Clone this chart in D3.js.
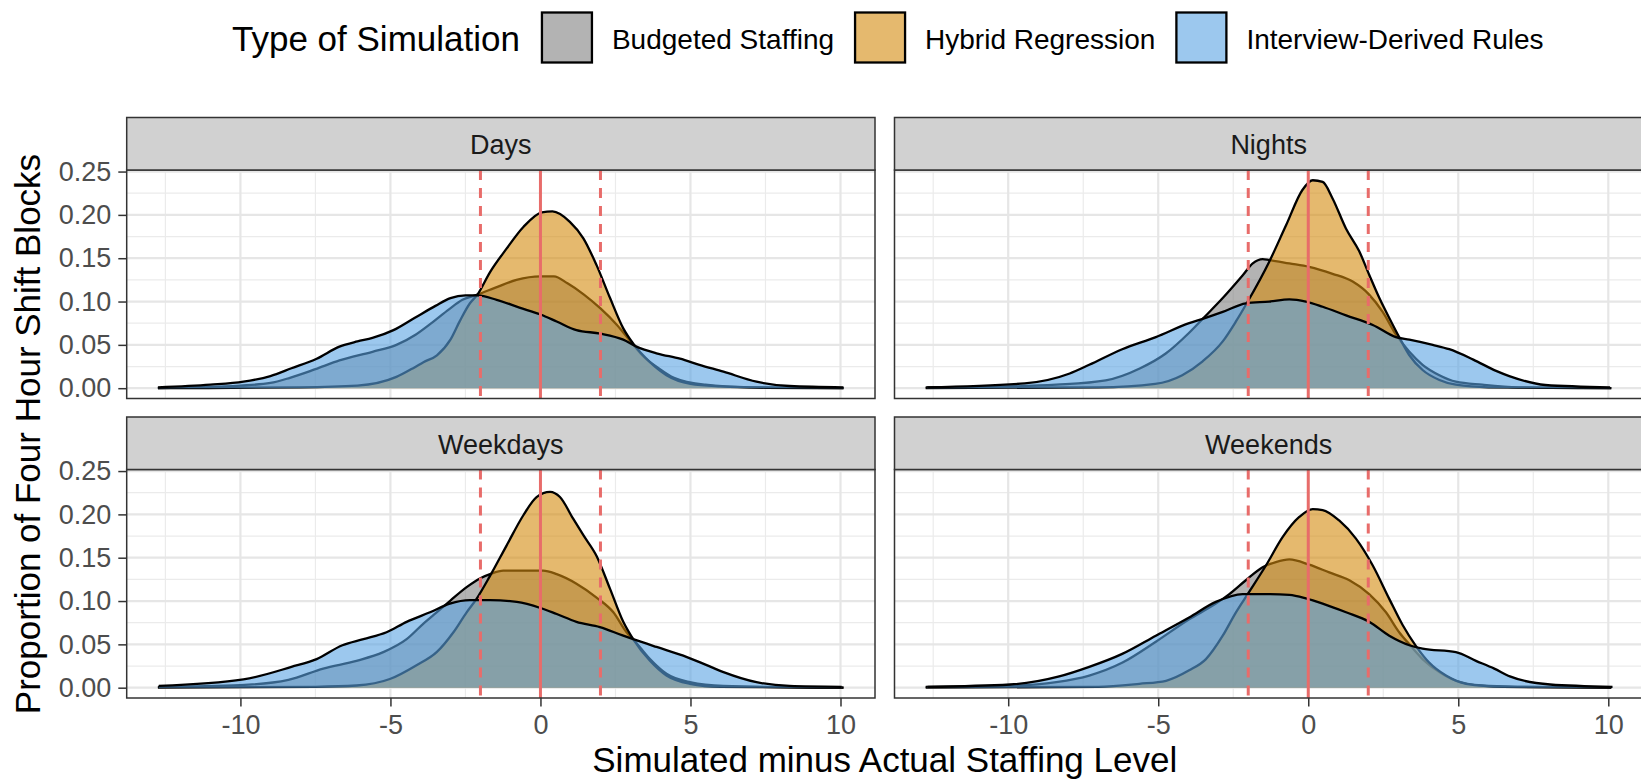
<!DOCTYPE html>
<html>
<head>
<meta charset="utf-8">
<script src="https://cdn.jsdelivr.net/npm/d3@7"></script>
<style>
body { margin: 0; background: #fff; }
svg { display: block; font-family: "Liberation Sans", Arial, Helvetica, sans-serif; }
</style>
</head>
<body>
<svg id="chart"></svg>
<script>
// values, [staffing difference, density]
var panelNames = ['Days', 'Nights', 'Weekdays', 'Weekends']
var seriesNames = ['Budgeted Staffing', 'Hybrid Regression', 'Interview-Derived Rules']
var seriesColors = ['#808080', '#d48a0d', '#5aa3e3']
var xTicks = [-10, -5, 0, 5, 10]
var xMinorTicks = [-12.5, -7.5, -2.5, 2.5, 7.5]
var yTicks = [0, 0.05, 0.10, 0.15, 0.20, 0.25]
var yMinorTicks = [0.025, 0.075, 0.125, 0.175, 0.225]
var refLines = [-2, 0, 2]

var daysBudgeted = [[-12.75, 0], [-10, 0.003], [-9, 0.006], [-8.35, 0.012], [-7.5, 0.022], [-6.7, 0.032], [-5.6, 0.042], [-4.8, 0.05], [-4.15, 0.062], [-3.6, 0.076], [-3.05, 0.091], [-2.6, 0.102], [-2.1, 0.108], [-1.5, 0.116], [-0.8, 0.125], [0, 0.129], [0.45, 0.129], [0.9, 0.121], [1.45, 0.108], [2, 0.092], [2.55, 0.073], [3.05, 0.052], [3.45, 0.036], [3.9, 0.024], [4.45, 0.012], [5.5, 0.004], [7, 0.001], [10.1, 0]]
var daysHybrid = [[-12.75, 0], [-8, 0.001], [-6.1, 0.003], [-4.8, 0.013], [-4.2, 0.024], [-3.9, 0.03], [-3.45, 0.038], [-3.0, 0.056], [-2.68, 0.078], [-2.35, 0.098], [-2.1, 0.108], [-1.68, 0.134], [-1.13, 0.161], [-0.57, 0.186], [0.05, 0.203], [0.4, 0.204], [0.98, 0.192], [1.43, 0.173], [1.87, 0.142], [2.32, 0.104], [2.76, 0.069], [3.1, 0.051], [3.65, 0.03], [4.2, 0.015], [5, 0.005], [6, 0.002], [7.5, 0.0005], [10.1, 0]]
var daysInterview = [[-12.75, 0.001], [-11, 0.004], [-9.9, 0.0075], [-9, 0.014], [-8.3, 0.023], [-7.46, 0.034], [-6.7, 0.048], [-6.1, 0.054], [-5.6, 0.058], [-4.9, 0.067], [-4.2, 0.081], [-3.5, 0.095], [-3.0, 0.104], [-2.5, 0.107], [-2.1, 0.107], [-1.46, 0.102], [-0.7, 0.093], [0, 0.085], [0.54, 0.077], [1.2, 0.067], [2, 0.063], [2.76, 0.056], [3.2, 0.048], [3.9, 0.04], [4.65, 0.034], [5.3, 0.027], [6.1, 0.019], [7.2, 0.0075], [8.3, 0.0025], [10.1, 0.001]]

var nightsBudgeted = [[-12.75, 0.001], [-10, 0.002], [-8.4, 0.004], [-6.75, 0.009], [-5.6, 0.023], [-4.75, 0.04], [-3.97, 0.064], [-3.52, 0.08], [-2.85, 0.104], [-2.19, 0.13], [-1.85, 0.144], [-1.52, 0.149], [-1.3, 0.148], [-0.63, 0.144], [0.03, 0.14], [0.81, 0.132], [1.48, 0.123], [2.03, 0.108], [2.48, 0.088], [2.92, 0.062], [3.37, 0.042], [3.81, 0.027], [4.37, 0.015], [4.92, 0.0075], [5.8, 0.004], [7, 0.001], [10.1, 0]]
var nightsHybrid = [[-12.75, 0], [-7, 0.001], [-5.1, 0.005], [-4.2, 0.015], [-3.52, 0.031], [-2.85, 0.054], [-2.41, 0.077], [-2.05, 0.098], [-1.3, 0.146], [-0.74, 0.188], [-0.19, 0.229], [0.15, 0.24], [0.48, 0.238], [0.81, 0.219], [1.26, 0.184], [1.7, 0.158], [2.03, 0.131], [2.37, 0.104], [2.7, 0.081], [3.03, 0.059], [3.37, 0.038], [3.81, 0.021], [4.37, 0.0095], [4.92, 0.004], [6, 0.001], [10.1, 0]]
var nightsInterview = [[-12.7, 0.001], [-9.45, 0.0056], [-7.95, 0.017], [-7.3, 0.027], [-6.2, 0.045], [-5.08, 0.059], [-3.97, 0.075], [-3.52, 0.08], [-2.85, 0.088], [-2.08, 0.098], [-1.3, 0.1], [-0.63, 0.1025], [-0.08, 0.1], [0.48, 0.094], [1.26, 0.084], [2.15, 0.073], [2.92, 0.059], [3.37, 0.056], [4.15, 0.05], [4.7, 0.045], [5.5, 0.033], [6.26, 0.02], [6.7, 0.014], [7.9, 0.0037], [10.06, 0.001]]

var weekdaysBudgeted = [[-12.75, 0.001], [-10, 0.003], [-8.4, 0.009], [-7.24, 0.022], [-6.13, 0.031], [-5.24, 0.041], [-4.46, 0.056], [-3.9, 0.074], [-3.46, 0.087], [-3.02, 0.1], [-2.46, 0.116], [-2.02, 0.126], [-1.68, 0.131], [-1.24, 0.135], [-0.57, 0.135], [0.09, 0.135], [0.54, 0.131], [1.2, 0.12], [1.87, 0.104], [2.43, 0.087], [2.87, 0.064], [3.09, 0.056], [3.65, 0.033], [4.2, 0.016], [4.98, 0.0064], [6.1, 0.002], [10.1, 0]]
var weekdaysHybrid = [[-12.75, 0], [-7.5, 0.001], [-6.13, 0.0025], [-5.02, 0.01], [-4.13, 0.026], [-3.46, 0.041], [-2.9, 0.064], [-2.46, 0.087], [-2.13, 0.1025], [-1.68, 0.129], [-1.13, 0.164], [-0.57, 0.199], [-0.13, 0.22], [0.32, 0.226], [0.65, 0.22], [1.09, 0.195], [1.43, 0.176], [1.87, 0.152], [2.32, 0.114], [2.76, 0.076], [3.09, 0.056], [3.65, 0.031], [4.2, 0.014], [4.98, 0.0045], [6, 0.001], [10.1, 0]]
var weekdaysInterview = [[-12.72, 0.002], [-9.9, 0.0095], [-8.3, 0.024], [-7.46, 0.033], [-6.6, 0.049], [-5.9, 0.056], [-5.13, 0.064], [-4.46, 0.076], [-3.68, 0.087], [-3.02, 0.097], [-2.35, 0.101], [-1.68, 0.101], [-0.79, 0.099], [0, 0.092], [0.54, 0.085], [1.2, 0.076], [1.98, 0.07], [2.76, 0.06], [3.09, 0.056], [3.87, 0.047], [4.76, 0.037], [5.54, 0.026], [6.1, 0.018], [7.2, 0.0064], [8.3, 0.002], [10.04, 0.001]]

var weekendsBudgeted = [[-12.75, 0.001], [-10, 0.002], [-8.4, 0.0064], [-7.3, 0.014], [-6.19, 0.029], [-5.08, 0.053], [-3.97, 0.079], [-3.08, 0.097], [-2.63, 0.108], [-2.08, 0.124], [-1.52, 0.139], [-1.08, 0.145], [-0.63, 0.148], [0.03, 0.142], [0.7, 0.133], [1.37, 0.124], [2.03, 0.108], [2.59, 0.087], [3.03, 0.064], [3.37, 0.05], [3.81, 0.033], [4.37, 0.018], [4.92, 0.008], [5.8, 0.0025], [7, 0.001], [10.1, 0]]
var weekendsHybrid = [[-12.75, 0], [-7, 0.001], [-5.63, 0.0045], [-4.74, 0.008], [-3.97, 0.02], [-3.41, 0.033], [-2.85, 0.06], [-2.41, 0.087], [-2.02, 0.108], [-1.41, 0.141], [-0.85, 0.174], [-0.3, 0.197], [0.15, 0.206], [0.48, 0.205], [1.03, 0.193], [1.59, 0.172], [2.15, 0.141], [2.7, 0.1025], [3.15, 0.072], [3.59, 0.048], [4.03, 0.029], [4.59, 0.014], [5.26, 0.0045], [6.5, 0.001], [10.1, 0]]
var weekendsInterview = [[-12.69, 0.001], [-9.94, 0.0037], [-8.3, 0.013], [-7.3, 0.024], [-6.2, 0.039], [-5.08, 0.06], [-3.97, 0.081], [-3.08, 0.099], [-2.19, 0.108], [-1.3, 0.108], [-0.63, 0.107], [-0.08, 0.103], [0.48, 0.097], [1.26, 0.087], [2.03, 0.076], [2.7, 0.06], [3.37, 0.049], [3.81, 0.045], [4.92, 0.041], [5.59, 0.031], [6.2, 0.022], [6.72, 0.013], [8.06, 0.0037], [10.14, 0.001]]

var panelSeries = [
    [daysBudgeted, daysHybrid, daysInterview],
    [nightsBudgeted, nightsHybrid, nightsInterview],
    [weekdaysBudgeted, weekdaysHybrid, weekdaysInterview],
    [weekendsBudgeted, weekendsHybrid, weekendsInterview]
]

var width = 1641, height = 781
var panelLefts = [126.7, 894.5], panelWidth = 748.3
var stripTops = [117.5, 417], stripHeight = 52.5, panelHeight = 228.5
var fillAlpha = 0.6
var refColor = '#e86c6a'
var tickFont = 27, legendFont = 28, bigFont = 35

var svg = d3.select('#chart').attr('width', width).attr('height', height)

var xScale = d3.scaleLinear().domain([-13.79, 11.15]).range([0, panelWidth])
var yScale = d3.scaleLinear().domain([-0.0119, 0.2518]).range([panelHeight, 0])

var area = d3.area()
    .x(function (d) { return xScale(d[0]) })
    .y0(yScale(0))
    .y1(function (d) { return yScale(d[1]) })
    .curve(d3.curveMonotoneX)
var line = d3.line()
    .x(function (d) { return xScale(d[0]) })
    .y(function (d) { return yScale(d[1]) })
    .curve(d3.curveMonotoneX)

svg.append('defs').append('clipPath').attr('id', 'panelClip')
    .append('rect').attr('width', panelWidth).attr('height', panelHeight)

panelNames.forEach(function (name, i) {
    var col = i % 2, row = Math.floor(i / 2)
    var top = stripTops[row] + stripHeight
    var g = svg.append('g').attr('transform', 'translate(' + panelLefts[col] + ', ' + top + ')')
    var plot = g.append('g').attr('clip-path', 'url(#panelClip)')

    plot.selectAll('.minorX').data(xMinorTicks).enter().append('line')
        .attr('x1', xScale).attr('x2', xScale).attr('y1', 0).attr('y2', panelHeight)
        .attr('stroke', '#ebebeb').attr('stroke-width', 1.2)
    plot.selectAll('.minorY').data(yMinorTicks).enter().append('line')
        .attr('y1', yScale).attr('y2', yScale).attr('x1', 0).attr('x2', panelWidth)
        .attr('stroke', '#ebebeb').attr('stroke-width', 1.2)
    plot.selectAll('.majorX').data(xTicks).enter().append('line')
        .attr('x1', xScale).attr('x2', xScale).attr('y1', 0).attr('y2', panelHeight)
        .attr('stroke', '#e6e6e6').attr('stroke-width', 2.2)
    plot.selectAll('.majorY').data(yTicks).enter().append('line')
        .attr('y1', yScale).attr('y2', yScale).attr('x1', 0).attr('x2', panelWidth)
        .attr('stroke', '#e6e6e6').attr('stroke-width', 2.2)

    panelSeries[i].forEach(function (values, s) {
        plot.append('path').datum(values)
            .attr('d', area)
            .attr('fill', seriesColors[s])
            .attr('fill-opacity', fillAlpha)
        plot.append('path').datum(values)
            .attr('d', line)
            .attr('fill', 'none')
            .attr('stroke', '#000')
            .attr('stroke-width', 2.3)
    })

    plot.selectAll('.ref').data(refLines).enter().append('line')
        .attr('x1', xScale).attr('x2', xScale).attr('y1', 0).attr('y2', panelHeight)
        .attr('stroke', refColor).attr('stroke-width', 3)
        .attr('stroke-dasharray', function (d) { return d === 0 ? null : '10,8' })

    g.append('rect').attr('width', panelWidth).attr('height', panelHeight)
        .attr('fill', 'none').attr('stroke', '#333').attr('stroke-width', 1.5)

    // strip
    g.append('rect').attr('x', 0).attr('y', -stripHeight)
        .attr('width', panelWidth).attr('height', stripHeight)
        .attr('fill', '#d1d1d1').attr('stroke', '#333').attr('stroke-width', 1.5)
    g.append('text').attr('x', panelWidth / 2).attr('y', -stripHeight / 2 + 1)
        .attr('dy', '0.35em').attr('text-anchor', 'middle')
        .style('font-size', tickFont + 'px').attr('fill', '#1a1a1a')
        .text(name)

    if (col === 0) {
        var yAxis = g.append('g').call(d3.axisLeft(yScale).tickValues(yTicks)
            .tickFormat(d3.format('.2f')).tickSize(8.4).tickPadding(7))
        yAxis.select('.domain').remove()
        yAxis.selectAll('line').attr('stroke', '#333').attr('stroke-width', 1.5)
        yAxis.selectAll('text').style('font-size', tickFont + 'px')
            .style('font-family', 'inherit').attr('fill', '#4d4d4d')
    }
    if (row === 1) {
        var xAxis = g.append('g').attr('transform', 'translate(0, ' + panelHeight + ')')
            .call(d3.axisBottom(xScale).tickValues(xTicks)
                .tickFormat(function (d) { return String(d) }).tickSize(8.4).tickPadding(8))
        xAxis.select('.domain').remove()
        xAxis.selectAll('line').attr('stroke', '#333').attr('stroke-width', 1.5)
        xAxis.selectAll('text').style('font-size', tickFont + 'px')
            .style('font-family', 'inherit').attr('fill', '#4d4d4d')
    }
})

// axis titles
var plotsLeft = panelLefts[0], plotsRight = panelLefts[1] + panelWidth
svg.append('text')
    .attr('x', (plotsLeft + plotsRight) / 2).attr('y', 772)
    .attr('text-anchor', 'middle').style('font-size', bigFont + 'px').attr('fill', '#000')
    .text('Simulated minus Actual Staffing Level')
svg.append('text')
    .attr('transform', 'translate(39.5, ' + ((stripTops[0] + stripHeight + stripTops[1] + stripHeight + panelHeight) / 2) + ') rotate(-90)')
    .attr('text-anchor', 'middle').style('font-size', bigFont + 'px').attr('fill', '#000')
    .text('Proportion of Four Hour Shift Blocks')

// legend
var legend = svg.append('g')
var keySize = 52, keyTop = 11.5, lx = 232
var legendTitle = legend.append('text').attr('x', lx).attr('y', 50.5)
    .style('font-size', bigFont + 'px').text('Type of Simulation')
lx += legendTitle.node().getComputedTextLength() + 21
seriesNames.forEach(function (name, s) {
    legend.append('rect').attr('x', lx).attr('y', keyTop)
        .attr('width', keySize).attr('height', keySize).attr('fill', '#fff')
    legend.append('rect').attr('x', lx + 1).attr('y', keyTop + 1)
        .attr('width', keySize - 2).attr('height', keySize - 2)
        .attr('fill', seriesColors[s]).attr('fill-opacity', fillAlpha)
        .attr('stroke', '#000').attr('stroke-width', 2.3)
    lx += keySize + 19
    var t = legend.append('text').attr('x', lx).attr('y', 48.5)
        .style('font-size', legendFont + 'px').text(name)
    lx += t.node().getComputedTextLength() + 20
})
</script>
</body>
</html>
